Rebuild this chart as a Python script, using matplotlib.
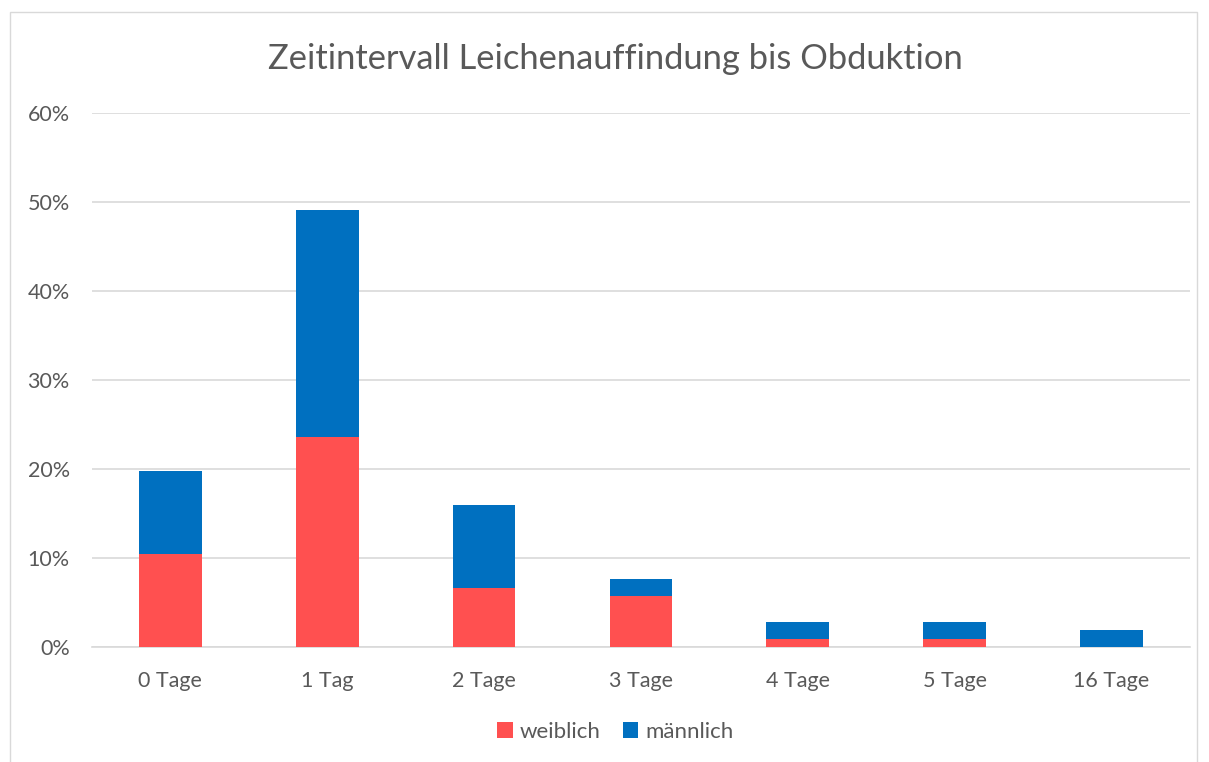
import matplotlib.pyplot as plt
from matplotlib.patches import Rectangle
from matplotlib.ticker import PercentFormatter

kategorien = ["0 Tage", "1 Tag", "2 Tage", "3 Tage", "4 Tage", "5 Tage", "16 Tage"]
weiblich = [10.4, 23.6, 6.6, 5.7, 0.9, 0.9, 0.0]
maennlich = [9.4, 25.5, 9.4, 1.9, 1.9, 1.9, 1.9]

rot = "#FF5050"
blau = "#0070C0"
grau = "#595959"

plt.rcParams['font.family'] = ['Lato', 'DejaVu Sans']

fig = plt.figure(figsize=(12.09, 7.62), dpi=100)
ax = fig.add_axes([0.0761, 0.1509, 0.908, 0.7008])

x = range(len(kategorien))
ax.bar(x, weiblich, width=0.4, color=rot, label="weiblich", zorder=3)
ax.bar(x, maennlich, width=0.4, bottom=weiblich, color=blau, label="männlich", zorder=3)

ax.set_xlim(-0.5, 6.5)
ax.set_ylim(0, 60)
ax.set_yticks(range(0, 61, 10))
ax.yaxis.set_major_formatter(PercentFormatter(decimals=0))
ax.set_xticks(list(x))
ax.set_xticklabels(kategorien)
ax.grid(axis="y", color="#D9D9D9", linewidth=1.2, zorder=0)
for s in ["top", "right", "left"]:
    ax.spines[s].set_visible(False)
ax.spines["bottom"].set_color("#D9D9D9")
ax.spines["bottom"].set_linewidth(1.2)
ax.tick_params(axis="both", length=0, labelsize=15.5, labelcolor=grau)
ax.tick_params(axis="x", pad=17)
ax.tick_params(axis="y", pad=16)

fig.text(0.509, 0.922, "Zeitintervall Leichenauffindung bis Obduktion",
         ha="center", va="center", fontsize=24.8, color=grau)

fig.legend(loc="center", bbox_to_anchor=(0.509, 0.040), ncol=2, frameon=False,
           fontsize=16, labelcolor=grau, handlelength=0.7, handleheight=0.7,
           handletextpad=0.3, columnspacing=1.0)

fig.patches.append(Rectangle((10 / 1209, -0.01), 1187 / 1209, 750 / 762 + 0.01,
                             transform=fig.transFigure, fill=False,
                             edgecolor="#D9D9D9", linewidth=1))

fig.savefig("out.png", dpi=100)
